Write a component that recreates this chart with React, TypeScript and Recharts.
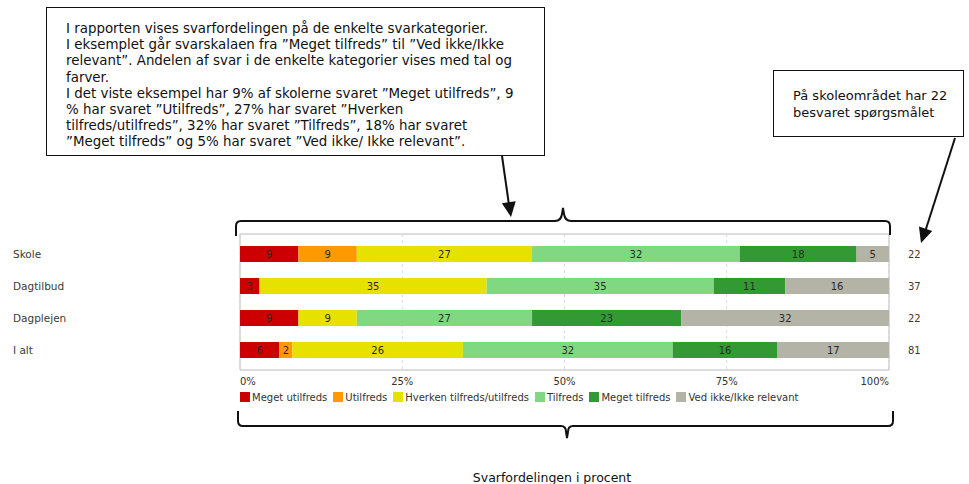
import React from 'react';
import { BarChart, Bar, XAxis, YAxis, CartesianGrid, Legend, LabelList } from 'recharts';

const categories = ['Skole', 'Dagtilbud', 'Dagplejen', 'I alt'];
const respondents = [22, 37, 22, 81];
const seriesNames = [
  'Meget utilfreds',
  'Utilfreds',
  'Hverken tilfreds/utilfreds',
  'Tilfreds',
  'Meget tilfreds',
  'Ved ikke/Ikke relevant',
];
const seriesKeys = ['mu', 'u', 'h', 't', 'mt', 'vi'];
const seriesColors = ['#CC0000', '#FF9900', '#E6E200', '#80D982', '#339933', '#B3B3A6'];
const megetUtilfreds = [9, 3, 9, 6];
const utilfreds = [9, 0, 0, 2];
const hverken = [27, 35, 9, 26];
const tilfreds = [32, 35, 27, 32];
const megetTilfreds = [18, 11, 23, 16];
const vedIkke = [5, 16, 32, 17];
const xTicks = [0, 0.25, 0.5, 0.75, 1];
const xTickLabels = ['0%', '25%', '50%', '75%', '100%'];

const seriesValues = [megetUtilfreds, utilfreds, hverken, tilfreds, megetTilfreds, vedIkke];

const data = categories.map((name, i) => {
  const row: any = { name };
  seriesKeys.forEach((k, j) => {
    row[k] = seriesValues[j][i];
  });
  return row;
});

const FONT = '"DejaVu Sans", Verdana, sans-serif';

const renderBarLabel = (props: any) => {
  const vb = props.viewBox || {};
  const x = props.x ?? vb.x;
  const y = props.y ?? vb.y;
  const width = props.width ?? vb.width;
  const height = props.height ?? vb.height;
  const v = props.value;
  if (!v || typeof v !== 'number') return null;
  return (
    <text
      x={x + width / 2}
      y={y + height / 2}
      dy="0.36em"
      textAnchor="middle"
      fontSize={10}
      fontFamily={FONT}
      fill="#2a2a2a"
    >
      {v}
    </text>
  );
};

const XTick = (props: any) => {
  const { x, y, payload } = props;
  const i = xTicks.indexOf(payload.value);
  const anchor = i === 0 ? 'start' : i === xTicks.length - 1 ? 'end' : 'middle';
  return (
    <text x={x} y={y} dy="0.71em" textAnchor={anchor} fontSize={10} fontFamily={FONT} fill="#333">
      {xTickLabels[i]}
    </text>
  );
};

const LeftTick = (props: any) => {
  const { y, payload } = props;
  return (
    <text x={13} y={y} dy="0.36em" textAnchor="start" fontSize={10.5} fontFamily={FONT} fill="#3a3a3a">
      {payload.value}
    </text>
  );
};

const RightTick = (props: any) => {
  const { y, payload } = props;
  const i = categories.indexOf(payload.value);
  return (
    <text x={908} y={y} dy="0.36em" textAnchor="start" fontSize={10} fontFamily={FONT} fill="#3a3a3a">
      {respondents[i]}
    </text>
  );
};

const renderLegend = (props: any) => {
  const payload = [...(props.payload || [])].sort(
    (a: any, b: any) => seriesNames.indexOf(a.value) - seriesNames.indexOf(b.value)
  );
  return (
    <div
      style={{
        display: 'flex',
        alignItems: 'center',
        height: 14,
        fontSize: 10,
        fontFamily: FONT,
        color: '#333',
        whiteSpace: 'nowrap',
      }}
    >
      {payload.map((p: any, i: number) => (
        <span key={i} style={{ display: 'flex', alignItems: 'center', marginRight: 6 }}>
          <span style={{ width: 10, height: 10, background: p.color, marginRight: 2, display: 'inline-block' }} />
          {p.value}
        </span>
      ))}
    </div>
  );
};

function arrowHead(x1: number, y1: number, x2: number, y2: number, len = 15, half = 7) {
  const dx = x2 - x1;
  const dy = y2 - y1;
  const d = Math.sqrt(dx * dx + dy * dy);
  const ux = dx / d;
  const uy = dy / d;
  const bx = x2 - ux * len;
  const by = y2 - uy * len;
  const nx = -uy;
  const ny = ux;
  return `${x2},${y2} ${bx + nx * half},${by + ny * half} ${bx - nx * half},${by - ny * half}`;
}

const boxText: React.CSSProperties = {
  position: 'absolute',
  boxSizing: 'border-box',
  border: '1.5px solid #111',
  background: '#fff',
  fontFamily: FONT,
  color: '#111',
  whiteSpace: 'nowrap',
};

const leftBoxLines = [
  'I rapporten vises svarfordelingen på de enkelte svarkategorier.',
  'I eksemplet går svarskalaen fra ”Meget tilfreds” til ”Ved ikke/Ikke',
  'relevant”. Andelen af svar i de enkelte kategorier vises med tal og',
  'farver.',
  'I det viste eksempel har 9% af skolerne svaret ”Meget utilfreds”, 9',
  '% har svaret ”Utilfreds”, 27% har svaret ”Hverken',
  'tilfreds/utilfreds”, 32% har svaret ”Tilfreds”, 18% har svaret',
  '”Meget tilfreds” og 5% har svaret ”Ved ikke/ Ikke relevant”.',
];

export default function App() {
  return (
    <div style={{ position: 'absolute', left: 0, top: 0, width: 969, height: 484, background: '#fff', overflow: 'hidden' }}>
      <BarChart
        width={969}
        height={484}
        data={data}
        layout="vertical"
        stackOffset="expand"
        margin={{ top: 234, right: 20, left: 10, bottom: 80 }}
        barSize={16}
      >
        <CartesianGrid horizontal={false} stroke="#dcdcdc" strokeDasharray="3 3" />
        <CartesianGrid
          stroke="#d2d2d2"
          strokeWidth={1.5}
          horizontalCoordinatesGenerator={(a: any) => [a.offset.top, a.offset.top + a.offset.height]}
          verticalCoordinatesGenerator={(a: any) => [a.offset.left, a.offset.left + a.offset.width]}
        />
        <XAxis
          type="number"
          domain={[0, 1]}
          ticks={xTicks}
          axisLine={false}
          tickLine={false}
          tick={<XTick />}
          height={20}
          interval={0}
        />
        <YAxis
          type="category"
          dataKey="name"
          width={230}
          axisLine={false}
          tickLine={false}
          tick={<LeftTick />}
          padding={{ top: 4, bottom: 4 }}
          interval={0}
        />
        <YAxis
          yAxisId="right"
          orientation="right"
          type="category"
          dataKey="name"
          width={60}
          axisLine={false}
          tickLine={false}
          tick={<RightTick />}
          padding={{ top: 4, bottom: 4 }}
          interval={0}
        />
        <Legend
          verticalAlign="bottom"
          align="left"
          content={renderLegend}
          wrapperStyle={{ left: 240, top: 390, bottom: 'auto', width: 'auto' }}
        />
        {seriesKeys.map((k, j) => (
          <Bar key={k} dataKey={k} name={seriesNames[j]} stackId="a" fill={seriesColors[j]} isAnimationActive={false}>
            <LabelList dataKey={k} content={renderBarLabel} />
          </Bar>
        ))}
      </BarChart>

      <div style={{ ...boxText, left: 46, top: 7, width: 499, height: 149, padding: '13px 8px 0 19px', lineHeight: '16.2px', fontSize: 13.4 }}>
        {leftBoxLines.map((l, i) => (
          <div key={i}>{l}</div>
        ))}
      </div>

      <div style={{ ...boxText, left: 773, top: 70, width: 191, height: 67, padding: '16px 8px 0 19px', lineHeight: '17px', fontSize: 13 }}>
        <div>På skoleområdet har 22</div>
        <div>besvaret spørgsmålet</div>
      </div>

      <svg width={969} height={484} style={{ position: 'absolute', left: 0, top: 0, pointerEvents: 'none' }}>
        <g fill="none" stroke="#111" strokeWidth={2}>
          <path d="M236 236 L236 226 Q236 221 241 221 L555 221 Q561 221 562 214 L563 208 L564 214 Q565 221 571 221 L885 221 Q890 221 890 226 L890 235" />
          <path d="M238 411 L238 421 Q238 426 243 426 L561 426 Q566 426 566 432 L567 438 L568 432 Q568 426 573 426 L888 426 Q893 426 893 421 L893 411" />
          <line x1={502} y1={156} x2={509} y2={205} />
          <line x1={955} y1={138} x2={925} y2={232} />
        </g>
        <polygon points={arrowHead(502, 156, 511, 217)} fill="#111" />
        <polygon points={arrowHead(955, 138, 921, 243)} fill="#111" />
        <text x={552} y={477} dy="0.36em" textAnchor="middle" fontSize={12.5} fontFamily={FONT} fill="#111">
          Svarfordelingen i procent
        </text>
      </svg>
    </div>
  );
}
